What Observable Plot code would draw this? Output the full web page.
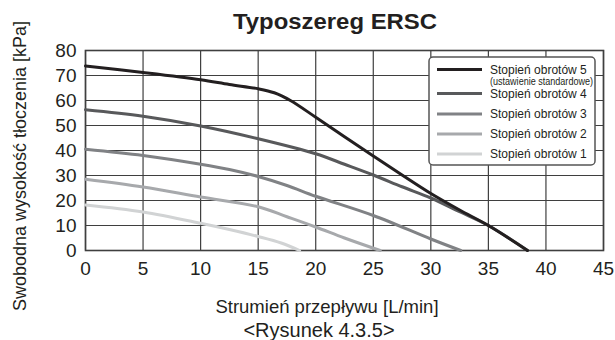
<!DOCTYPE html>
<html>
<head>
<meta charset="utf-8">
<script src="https://cdn.jsdelivr.net/npm/d3@7"></script>
<script src="https://cdn.jsdelivr.net/npm/@observablehq/plot@0.6"></script>
<style>
  html, body { margin: 0; padding: 0; background: #fff; }
  #wrap { position: relative; width: 615px; height: 340px; overflow: hidden; }
  #wrap svg.overlay { position: absolute; left: 0; top: 0; pointer-events: none; }
</style>
</head>
<body>
<div id="wrap"></div>
<script>
// ---- data ----
const titleText = "Typoszereg ERSC";
const xLabel = "Strumień przepływu [L/min]";
const yLabel = "Swobodna wysokość tłoczenia [kPa]";
const caption = "<Rysunek 4.3.5>";
const xTicks = [0, 5, 10, 15, 20, 25, 30, 35, 40, 45];
const yTicks = [0, 10, 20, 30, 40, 50, 60, 70, 80];

const speedNames = ["Stopień obrotów 5", "Stopień obrotów 4", "Stopień obrotów 3", "Stopień obrotów 2", "Stopień obrotów 1"];
const speedNote = "(ustawienie standardowe)";
const speedColors = ["#231f20", "#58595b", "#808285", "#a7a9ac", "#d1d3d4"];

const flow5 = [0, 5, 10, 12.5, 15, 16.4, 17.8, 20, 22.5, 25, 27.5, 30, 32.5, 35, 38.4];
const head5 = [73.8, 71.2, 68.3, 66.4, 64.7, 63.1, 60, 53.3, 45.5, 37.8, 30.2, 22.8, 16.2, 10, 0];
const flow4 = [0, 5, 10, 15, 20, 22.5, 25, 27.5, 30, 32.5, 35, 38.4];
const head4 = [56.3, 53.7, 49.8, 44.7, 38.7, 34.5, 30.2, 25.5, 21, 15.5, 10, 0];
const flow3 = [0, 5, 10, 12.5, 15, 17.5, 20, 25, 30, 32.6];
const head3 = [40.5, 38, 34.5, 32.4, 29.6, 26, 21.7, 14, 4.6, 0];
const flow2 = [0, 5, 10, 15, 17.5, 20, 22.5, 25.6];
const head2 = [28.5, 25.4, 21.4, 17.5, 13.5, 9.4, 5, 0];
const flow1 = [0, 5, 10, 12.5, 15, 17, 18.6];
const head1 = [18.2, 15.4, 10.9, 8.4, 5.6, 3, 0];

// ---- build table (lightest first so darkest is drawn on top) ----
const seriesList = [
  {name: speedNames[4], flow: flow1, head: head1},
  {name: speedNames[3], flow: flow2, head: head2},
  {name: speedNames[2], flow: flow3, head: head3},
  {name: speedNames[1], flow: flow4, head: head4},
  {name: speedNames[0], flow: flow5, head: head5}
];
const rows = [];
seriesList.forEach(s => s.flow.forEach((f, i) => rows.push({speed: s.name, flow: f, head: s.head[i]})));

const FONT = "'Liberation Sans', Arial, Helvetica, sans-serif";
const gridColor = "#3f3f3f";

const chart = Plot.plot({
  width: 615,
  height: 340,
  marginLeft: 85,
  marginRight: 12,
  marginTop: 50,
  marginBottom: 90,
  style: {fontFamily: FONT, fontSize: "19px", color: "#231f20", background: "white", overflow: "visible"},
  x: {domain: [0, 45]},
  y: {domain: [0, 80]},
  color: {domain: speedNames, range: speedColors},
  marks: [
    Plot.gridX(xTicks, {stroke: gridColor, strokeOpacity: 1, strokeWidth: 1.2}),
    Plot.gridY(yTicks, {stroke: gridColor, strokeOpacity: 1, strokeWidth: 1.2}),
    Plot.frame({stroke: gridColor, strokeWidth: 1.6}),
    Plot.axisX(xTicks, {tickSize: 0, tickPadding: 11, label: null, fontSize: 19, tickFormat: d => String(d)}),
    Plot.axisY(yTicks, {tickSize: 0, tickPadding: 9, label: null, fontSize: 19, tickFormat: d => String(d)}),
    Plot.line(rows, {x: "flow", y: "head", z: "speed", stroke: "speed", strokeWidth: 3, curve: "catmull-rom"})
  ]
});
document.getElementById("wrap").appendChild(chart);

// ---- overlay: titles and legend ----
const ns = "http://www.w3.org/2000/svg";
const ov = document.createElementNS(ns, "svg");
ov.setAttribute("class", "overlay");
ov.setAttribute("width", 615);
ov.setAttribute("height", 340);
ov.setAttribute("font-family", FONT);
ov.setAttribute("fill", "#231f20");
document.getElementById("wrap").appendChild(ov);

function txt(s, attrs) {
  const t = document.createElementNS(ns, "text");
  for (const k in attrs) t.setAttribute(k, attrs[k]);
  t.textContent = s;
  ov.appendChild(t);
  return t;
}
txt(titleText, {x: 335, y: 29, "text-anchor": "middle", "font-size": 22, "font-weight": "bold", textLength: 204, lengthAdjust: "spacingAndGlyphs"});
txt(xLabel, {x: 327, y: 313, "text-anchor": "middle", "font-size": 18.5});
txt(caption, {x: 319, y: 337, "text-anchor": "middle", "font-size": 20});
txt(yLabel, {transform: "translate(26,166) rotate(-90)", "text-anchor": "middle", "font-size": 18});

// legend
const lg = document.createElementNS(ns, "g");
ov.appendChild(lg);
const box = document.createElementNS(ns, "rect");
Object.entries({x: 429, y: 57, width: 166, height: 108, rx: 4, fill: "white", stroke: "#555", "stroke-width": 1.5}).forEach(([k, v]) => box.setAttribute(k, v));
lg.appendChild(box);
const rowY = [69.5, 93.5, 114, 134, 154];
speedNames.forEach((name, i) => {
  const l = document.createElementNS(ns, "line");
  Object.entries({x1: 437, x2: 482, y1: rowY[i], y2: rowY[i], stroke: speedColors[i], "stroke-width": 3.2}).forEach(([k, v]) => l.setAttribute(k, v));
  lg.appendChild(l);
  txt(name, {x: 490, y: rowY[i] + 4.3, "font-size": 12});
});
txt(speedNote, {x: 490, y: 85, "font-size": 10, textLength: 103, lengthAdjust: "spacingAndGlyphs"});
</script>
</body>
</html>
